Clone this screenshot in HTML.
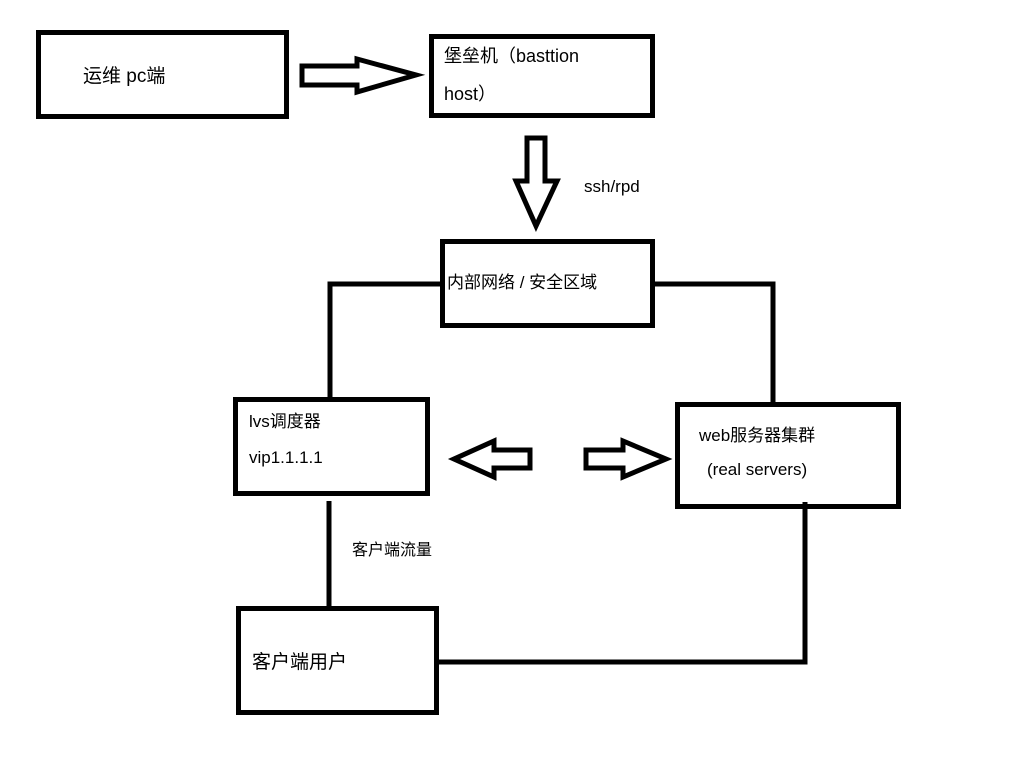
<!DOCTYPE html>
<html><head><meta charset="utf-8"><style>
html,body{margin:0;padding:0;background:#fff;}
svg text{font-family:"Liberation Sans","Noto Sans CJK SC",sans-serif;fill:#000;}
</style></head><body>
<svg width="1016" height="773" viewBox="0 0 1016 773" xmlns="http://www.w3.org/2000/svg">
<g fill="none" stroke="#000" stroke-width="5" stroke-linejoin="miter">
<rect x="38.5" y="32.5" width="248" height="84"/>
<rect x="431.5" y="36.5" width="221" height="79"/>
<rect x="442.5" y="241.5" width="210" height="84"/>
<rect x="235.5" y="399.5" width="192" height="94"/>
<rect x="677.5" y="404.5" width="221" height="102"/>
<rect x="238.5" y="608.5" width="198" height="104"/>
<polyline points="442,284 330,284 330,399"/>
<polyline points="653,284 773,284 773,404"/>
<line x1="329" y1="501" x2="329" y2="608"/>
<polyline points="437,662 805,662 805,502"/>
<!-- top right arrow -->
<polygon points="302,66 357,66 357,59 416,75 357,92 357,85 302,85"/>
<!-- down arrow -->
<polygon points="527,138 545,138 545,181 557,181 536,226 516,181 527,181"/>
<!-- left arrow -->
<polygon points="530,450 494,450 494,441 454,459 494,477 494,468 530,468"/>
<!-- right arrow -->
<polygon points="586,450 623,450 623,441 666,459 623,477 623,468 586,468"/>
</g>
<text x="83" y="82" font-size="19">运维 pc端</text>
<text x="444" y="62" font-size="18">堡垒机（basttion</text>
<text x="444" y="100" font-size="18">host）</text>
<text x="584" y="192" font-size="17">ssh/rpd</text>
<text x="447" y="288" font-size="17">内部网络 / 安全区域</text>
<text x="249" y="427" font-size="17">lvs调度器</text>
<text x="249" y="463" font-size="17">vip1.1.1.1</text>
<text x="699" y="441" font-size="17">web服务器集群</text>
<text x="707" y="475" font-size="17">(real servers)</text>
<text x="352" y="555" font-size="16">客户端流量</text>
<text x="252" y="668" font-size="19">客户端用户</text>
</svg>
</body></html>
